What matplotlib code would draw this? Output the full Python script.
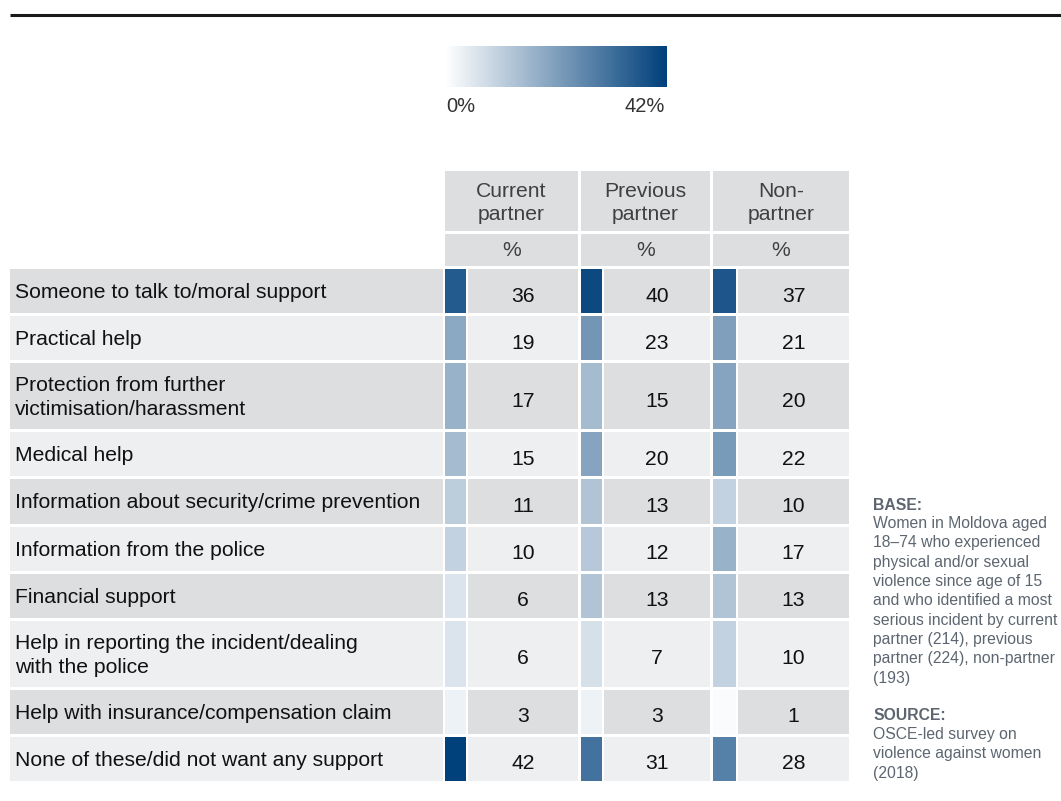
"""Support wanted after most serious incident, by perpetrator type (Moldova)."""
import matplotlib
import numpy as np

matplotlib.use('Agg')
import matplotlib.pyplot as plt
from matplotlib.colors import LinearSegmentedColormap, Normalize
from matplotlib.patches import Rectangle

plt.rcParams['font.family'] = ['Liberation Sans', 'DejaVu Sans']

categories = [
    'Someone to talk to/moral support',
    'Practical help',
    'Protection from further\nvictimisation/harassment',
    'Medical help',
    'Information about security/crime prevention',
    'Information from the police',
    'Financial support',
    'Help in reporting the incident/dealing\nwith the police',
    'Help with insurance/compensation claim',
    'None of these/did not want any support',
]
columns = ['Current\npartner', 'Previous\npartner', 'Non-\npartner']
current_partner = [36, 19, 17, 15, 11, 10, 6, 6, 3, 42]
previous_partner = [40, 23, 15, 20, 13, 12, 13, 7, 3, 31]
non_partner = [37, 21, 20, 22, 10, 17, 13, 10, 1, 28]
scale_max = 42

base_note = ('Women in Moldova aged\n18–74 who experienced\nphysical and/or sexual\n'
             'violence since age of 15\nand who identified a most\nserious incident by current\n'
             'partner (214), previous\npartner (224), non-partner\n(193)')
source_note = 'OSCE-led survey on\nviolence against women\n(2018)'

# layout (pixels)
W, H = 1061, 801
LABEL_X0, LABEL_X1 = 10, 443
COL_X = [(445, 466, 578), (581, 602, 710), (713, 736, 849)]  # left, swatch end, right
ROW_TOP, GAP = 269, 3
ROW_H1, ROW_H2 = 44.1, 66.1
DARK, LIGHT, HEAD = '#dcdee0', '#eeeff1', '#dcdedf'
FS = 15.2

cmap = LinearSegmentedColormap.from_list('blues', ['#ffffff', '#00407b'])
norm = Normalize(0, scale_max)

fig = plt.figure(figsize=(W / 100, H / 100), dpi=100)
ax = fig.add_axes([0, 0, 1, 1])
ax.set_xlim(0, W)
ax.set_ylim(H, 0)
ax.axis('off')

# top rule
ax.plot([10, W], [15, 15], color='#1a1a1a', linewidth=2.2, solid_capstyle='butt')

# colour scale
grad = np.linspace(0, scale_max, 256).reshape(1, -1)
ax.imshow(grad, cmap=cmap, norm=norm, extent=(445, 667, 87, 46), aspect='auto')
ax.text(461, 107, '0%', ha='center', va='center', fontsize=14.5, color='#333333')
ax.text(645, 107, '42%', ha='center', va='center', fontsize=14.5, color='#333333')

# column headers
for (x0, xs, x1), name in zip(COL_X, columns):
    ax.add_patch(Rectangle((x0, 171), x1 - x0, 60, facecolor=HEAD, edgecolor='none'))
    ax.add_patch(Rectangle((x0, 234), x1 - x0, 32, facecolor=HEAD, edgecolor='none'))
    ax.text((x0 + x1) / 2, 203, name, ha='center', va='center', fontsize=FS,
            color='#404040', linespacing=1.32)
    ax.text((x0 + x1) / 2, 251, '%', ha='center', va='center', fontsize=FS, color='#404040')

# rows
series = [current_partner, previous_partner, non_partner]
y = ROW_TOP
for i, label in enumerate(categories):
    h = ROW_H2 if '\n' in label else ROW_H1
    bg = DARK if i % 2 == 0 else LIGHT
    ax.add_patch(Rectangle((LABEL_X0, y), LABEL_X1 - LABEL_X0, h, facecolor=bg, edgecolor='none'))
    ax.text(15, y + h / 2 + 1.5, label, ha='left', va='center', fontsize=FS,
            color='#111111', linespacing=1.32)
    for (x0, xs, x1), vals in zip(COL_X, series):
        v = vals[i]
        ax.add_patch(Rectangle((x0, y), xs - x0, h, facecolor=cmap(norm(v)), edgecolor='none'))
        ax.add_patch(Rectangle((xs + 2, y), x1 - xs - 2, h, facecolor=bg, edgecolor='none'))
        ax.text((xs + 2 + x1) / 2, y + h / 2 + 5, str(v), ha='center', va='center',
                fontsize=FS, color='#111111')
    y += h + GAP

# notes
note_color = '#5d6670'
NFS = 11.3
ax.text(873, 505, 'BASE:', ha='left', va='center', fontsize=NFS, fontweight='bold', color=note_color)
ax.text(873, 516, base_note, ha='left', va='top', fontsize=NFS, color=note_color, linespacing=1.36)
ax.text(873, 716, 'SOURCE:', ha='left', va='center', fontsize=NFS, fontweight='bold', color=note_color)
ax.text(873, 727, source_note, ha='left', va='top', fontsize=NFS, color=note_color, linespacing=1.36)

fig.savefig('out.png', dpi=100)
plt.close(fig)
